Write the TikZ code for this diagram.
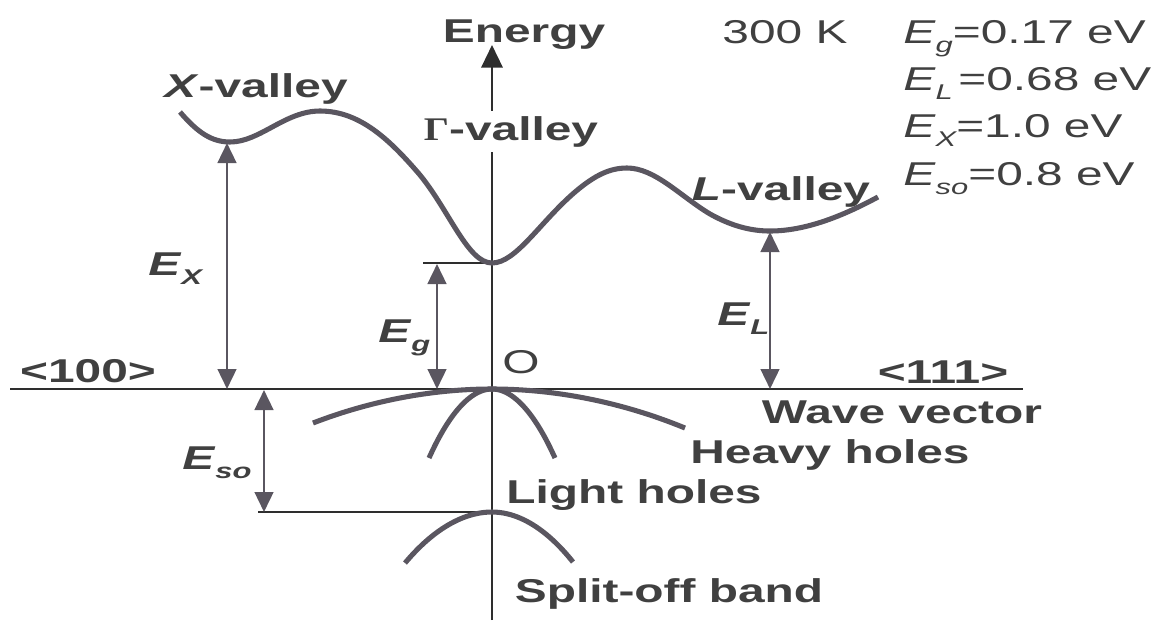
\documentclass[tikz,border=0pt]{standalone}
\usepackage{fontspec}
\setmainfont{Liberation Sans}[FakeStretch=1.45]
\newfontfamily\grk{Liberation Serif}[FakeStretch=1.2]
\usetikzlibrary{arrows.meta}
\definecolor{ink}{HTML}{404040}
\definecolor{band}{HTML}{5A5660}
\definecolor{axisc}{HTML}{2E2E2E}
\newcommand{\sbs}[1]{\raisebox{-0.3em}{\fontsize{16}{16}\selectfont\itshape #1}}
\begin{document}
\begin{tikzpicture}[x=0.75pt,y=-0.75pt,
  lbl/.style={inner sep=0pt, text=ink, anchor=base, font=\fontsize{24.75}{30}\selectfont\bfseries},
  elbl/.style={inner sep=0pt, text=ink, anchor=base west, font=\fontsize{24.75}{30}\selectfont\bfseries},
  val/.style={inner sep=0pt, text=ink, anchor=base west, font=\fontsize{24.75}{30}\selectfont},
  bandline/.style={draw=band, line width=3.8pt},
  axisline/.style={draw=axisc, line width=1.8pt},
  dimarrow/.style={draw=band, line width=1.9pt, {Triangle[width=14pt,length=15pt]}-{Triangle[width=14pt,length=15pt]}},
  thin/.style={draw=axisc, line width=1.5pt},
]
\useasboundingbox (0,0) rectangle (1166,622);

% coordinates
\coordinate (top) at (492,45);
\coordinate (bot) at (492,620);
\coordinate (hl) at (10,389);
\coordinate (hr) at (1023,389);
\coordinate (o) at (492,389);
\coordinate (gmin) at (492,263);
\coordinate (gtick) at (423,263);
\coordinate (sotop) at (492,512);
\coordinate (sotick) at (258,512);
\coordinate (xa1) at (227,143);
\coordinate (xa2) at (227,389);
\coordinate (ga1) at (437,264);
\coordinate (ga2) at (437,389);
\coordinate (la1) at (770,232);
\coordinate (la2) at (770,389);
\coordinate (sa1) at (264,390);
\coordinate (sa2) at (264,512);

% axes
\draw[thin] (hl) -- (hr);
\draw[axisline, -{Triangle[width=16pt,length=17pt]}] (bot) -- (top);
\draw[thin] (gtick) -- (gmin);
\draw[thin] (sotick) -- (sotop);

% conduction band
\draw[bandline] (180,112) .. controls (198,133) and (212,142) .. (230,142)
  .. controls (260,142) and (285,111) .. (320,111)
  .. controls (360,111) and (390,140) .. (420,175)
  .. controls (450,212) and (468,263) .. (gmin)
  .. controls (516,263) and (540,222) .. (575,192)
  .. controls (595,175) and (610,168) .. (627,168)
  .. controls (655,168) and (680,196) .. (710,214)
  .. controls (735,228) and (755,231) .. (770,231)
  .. controls (810,231) and (850,212) .. (878,197);

% valence bands
\draw[bandline] (313,423) parabola bend (o) (685,428);
\draw[bandline] (429,458) parabola bend (o) (555,458);
\draw[bandline] (405,563) parabola bend (sotop) (573,562);

% dimension arrows
\draw[dimarrow] (xa1) -- (xa2);
\draw[dimarrow] (ga1) -- (ga2);
\draw[dimarrow] (la1) -- (la2);
\draw[dimarrow] (sa1) -- (sa2);

% labels
\node[lbl] (energy) at (524,42) {Energy};
\node[lbl, fill=white, inner xsep=2pt, inner ysep=4pt] (gamma) at (511,140) {{\grk\bfseries Γ}-valley};
\node[lbl] (xval) at (256,97) {\textit{X}-valley};
\node[lbl] (lval) at (781,200) {\textit{L}-valley};
\node[lbl] (d100) at (88,382) {<100>};
\node[lbl] (d111) at (943,383) {<111>};
\node[val, anchor=base] (orig) at (521,373) {O};
\node[lbl] (wave) at (902,423) {Wave vector};
\node[lbl] (heavy) at (830,463) {Heavy holes};
\node[lbl] (light) at (634,503) {Light holes};
\node[lbl] (split) at (669,602) {Split-off band};

\node[elbl] (ex) at (148,275) {\textit{E}\sbs{X}};
\node[elbl] (eg) at (378,342) {\textit{E}\sbs{g}};
\node[elbl] (el) at (717,325) {\textit{E}\sbs{L}};
\node[elbl] (eso) at (182,469) {\textit{E}\sbs{so}};

\node[val, anchor=base] (temp) at (785,43) {300 K};
\node[val] (v1) at (903,43) {\textit{E}\sbs{g}=0.17 eV};
\node[val] (v2) at (903,90) {\textit{E}\sbs{L}\,=0.68 eV};
\node[val] (v3) at (903,137) {\textit{E}\sbs{X}=1.0 eV};
\node[val] (v4) at (903,185) {\textit{E}\sbs{so}=0.8 eV};
\end{tikzpicture}
\end{document}
